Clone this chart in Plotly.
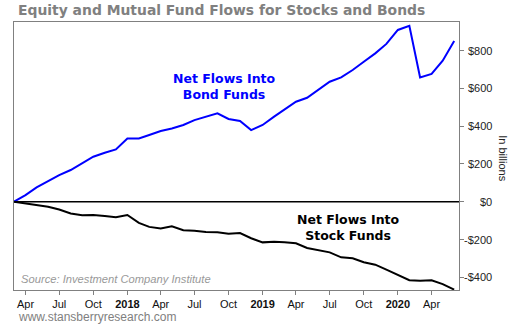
import plotly.graph_objects as go
import pandas as pd

dates = pd.date_range("2017-03-01", "2020-06-01", freq="MS")

bond_flows = [0, 35, 76, 111, 141, 168, 203, 238, 259, 277, 335, 335, 353, 374, 388, 406,
              432, 450, 468, 438, 427, 379, 406, 450, 489, 529, 550, 591, 635, 658, 697,
              741, 785, 835, 909, 931, 658, 676, 746, 850]
stock_flows = [0, -10, -19, -27, -41, -62, -71, -70, -75, -82, -70, -112, -133, -142, -130,
               -151, -153, -160, -162, -169, -166, -193, -215, -212, -214, -220, -245, -257,
               -268, -294, -299, -320, -333, -359, -388, -415, -418, -416, -436, -465]

x_tick_vals = ["2017-04-01", "2017-07-01", "2017-10-01", "2018-01-01", "2018-04-01",
               "2018-07-01", "2018-10-01", "2019-01-01", "2019-04-01", "2019-07-01",
               "2019-10-01", "2020-01-01", "2020-04-01"]
x_tick_text = ["Apr", "Jul", "Oct", "<b>2018</b>", "Apr", "Jul", "Oct", "<b>2019</b>",
               "Apr", "Jul", "Oct", "<b>2020</b>", "Apr"]
y_tick_vals = [800, 600, 400, 200, 0, -200, -400]
y_tick_text = ["$800", "$600", "$400", "$200", "$0", "-$200", "-$400"]

fig = go.Figure()
fig.add_trace(go.Scatter(x=dates, y=bond_flows, mode="lines",
                         line=dict(color="#0000FF", width=2), hoverinfo="skip"))
fig.add_trace(go.Scatter(x=dates, y=stock_flows, mode="lines",
                         line=dict(color="#000000", width=2), hoverinfo="skip"))

fig.add_shape(type="line", xref="paper", x0=0, x1=1, yref="y", y0=0, y1=0,
              line=dict(color="black", width=1.5), layer="below")

annotations = []
for v, t in zip(y_tick_vals, y_tick_text):
    annotations.append(dict(xref="paper", x=1, xanchor="right", xshift=35,
                            yref="y", y=v, yanchor="middle", text=t, showarrow=False,
                            font=dict(family="Arial", size=11, color="#222")))
annotations += [
    dict(xref="paper", x=1, xshift=44, xanchor="center", yref="y", y=230, text="In billions",
         textangle=90, showarrow=False, font=dict(family="Arial", size=11, color="#222")),
    dict(xref="x", x="2018-09-19", yref="y", y=611, text="<b>Net Flows Into<br>Bond Funds</b>",
         showarrow=False, align="center",
         font=dict(family="DejaVu Sans", size=12.5, color="#0000FF")),
    dict(xref="x", x="2019-08-22", yref="y", y=-135, text="<b>Net Flows Into<br>Stock Funds</b>",
         showarrow=False, align="center",
         font=dict(family="DejaVu Sans", size=12.5, color="#000000")),
    dict(xref="paper", x=0, xshift=5, xanchor="left", yref="y", y=-410,
         text="<i>Source: Investment Company Institute</i>", showarrow=False,
         font=dict(family="Arial", size=11.2, color="#999999")),
    dict(xref="paper", x=0, xshift=2, xanchor="left", yref="paper", y=0, yshift=-27,
         yanchor="middle", text="www.stansberryresearch.com", showarrow=False,
         font=dict(family="Arial", size=12, color="#808080")),
    dict(xref="paper", x=0, xshift=2, xanchor="left", yref="paper", y=1, yshift=12,
         yanchor="middle", text="<b>Equity and Mutual Fund Flows for Stocks and Bonds</b>",
         showarrow=False, font=dict(family="DejaVu Sans", size=13.9, color="#808080")),
]

fig.update_layout(
    width=510, height=325,
    margin=dict(l=14, r=51, t=22, b=35),
    paper_bgcolor="white", plot_bgcolor="white",
    showlegend=False,
    annotations=annotations,
    xaxis=dict(type="date", range=["2017-03-01", "2020-06-14"],
               tickvals=x_tick_vals, ticktext=x_tick_text,
               ticks="outside", ticklen=4, tickcolor="#808080",
               tickfont=dict(family="Arial", size=11, color="#111"),
               showgrid=False, zeroline=False,
               showline=True, linecolor="#808080", linewidth=1, mirror=True),
    yaxis=dict(range=[-467, 951], side="right", tickvals=y_tick_vals,
               showticklabels=False, ticks="outside", ticklen=4, tickcolor="#808080",
               showgrid=False, zeroline=False,
               showline=True, linecolor="#808080", linewidth=1, mirror=True),
)

fig.write_html("out.html")
